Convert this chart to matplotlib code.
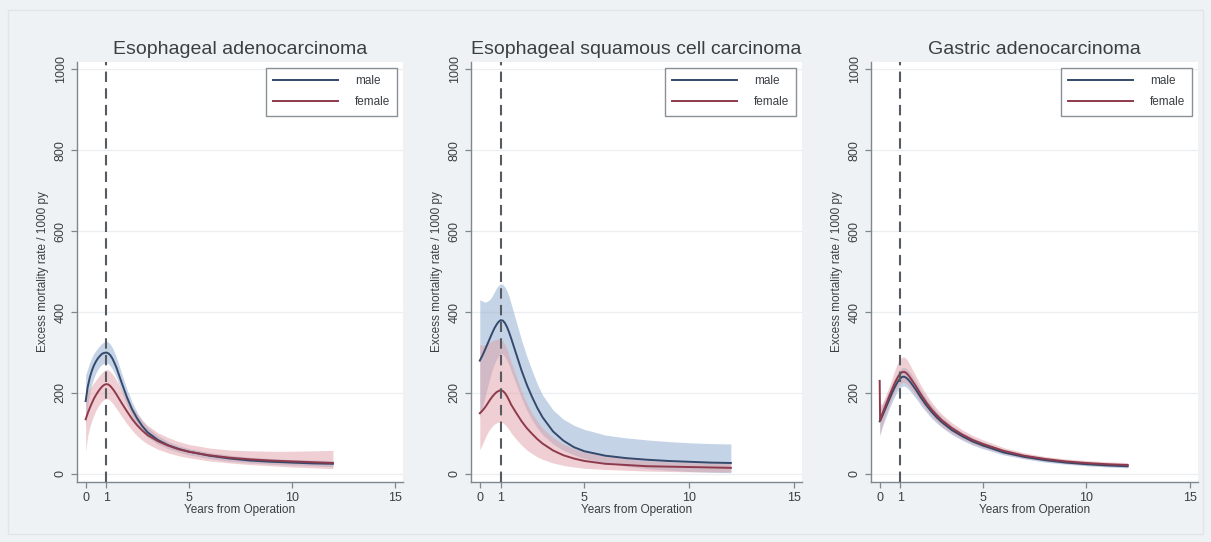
import matplotlib
matplotlib.use("Agg")
import matplotlib.pyplot as plt

plt.rcParams['font.family'] = ['Liberation Sans', 'DejaVu Sans']

titles = ["Esophageal adenocarcinoma", "Esophageal squamous cell carcinoma", "Gastric adenocarcinoma"]
legend_labels = ["male", "female"]
x_ticks = [0, 1, 5, 10, 15]
y_ticks = [0, 200, 400, 600, 800, 1000]
x_label = "Years from Operation"
y_label = "Excess mortality rate / 1000 py"

# time grid for panels 1 and 2
t = [0, 0.1, 0.2, 0.3, 0.4, 0.5, 0.6, 0.7, 0.8, 0.9, 1.0, 1.1, 1.2, 1.3, 1.4, 1.5,
     1.75, 2, 2.25, 2.5, 2.75, 3, 3.5, 4, 4.5, 5, 6, 7, 8, 9, 10, 11, 12]

# Panel 1: Esophageal adenocarcinoma
male1 = [180, 215, 238, 255, 268, 278, 286, 292, 297, 299, 300, 298, 293, 285, 274, 262,
         225, 190, 160, 137, 118, 103, 84, 71, 62, 55, 45, 38, 33, 30, 28, 26, 25]
male1_lo = [115, 165, 200, 222, 238, 250, 259, 266, 271, 273, 274, 272, 267, 259, 249, 238,
            203, 170, 143, 122, 105, 91, 74, 62, 54, 47, 38, 31, 27, 24, 22, 20, 18]
male1_hi = [245, 260, 275, 288, 298, 305, 312, 318, 323, 326, 328, 326, 320, 312, 300, 287,
            248, 210, 178, 152, 131, 115, 95, 80, 70, 63, 53, 46, 41, 38, 35, 34, 33]
female1 = [135, 150, 163, 175, 186, 195, 203, 210, 216, 220, 222, 221, 217, 211, 204, 196,
           175, 155, 136, 120, 107, 96, 81, 70, 61, 55, 46, 40, 36, 33, 31, 29, 27]
female1_lo = [55, 95, 115, 132, 145, 157, 166, 174, 180, 184, 186, 185, 181, 175, 168, 161,
              142, 124, 108, 94, 83, 74, 61, 52, 45, 40, 32, 27, 23, 20, 17, 15, 13]
female1_hi = [215, 205, 210, 218, 225, 232, 239, 245, 251, 255, 258, 257, 253, 247, 240, 231,
              208, 186, 165, 148, 133, 120, 102, 90, 80, 73, 64, 59, 57, 56, 56, 57, 58]

# Panel 2: Esophageal squamous cell carcinoma
male2 = [280, 290, 301, 313, 325, 337, 349, 360, 369, 376, 380, 379, 373, 363, 350, 335,
         295, 255, 220, 190, 163, 140, 105, 82, 66, 56, 45, 39, 35, 32, 30, 28, 27]
male2_lo = [140, 160, 180, 200, 220, 240, 258, 272, 284, 292, 298, 296, 290, 280, 268, 254,
            220, 186, 157, 133, 113, 97, 74, 58, 47, 38, 27, 19, 13, 9, 6, 4, 3]
male2_hi = [430, 428, 425, 425, 428, 432, 440, 450, 460, 466, 470, 468, 462, 452, 438, 420,
            375, 330, 290, 255, 222, 195, 158, 135, 120, 110, 96, 89, 84, 80, 77, 75, 74]
female2 = [150, 155, 161, 168, 176, 184, 191, 197, 202, 205, 207, 205, 200, 192, 182, 171,
           150, 130, 113, 99, 86, 75, 58, 46, 38, 32, 25, 22, 19, 18, 17, 16, 15]
female2_lo = [60, 70, 82, 94, 104, 112, 118, 123, 126, 128, 128, 126, 122, 116, 109, 101,
              85, 71, 59, 50, 42, 36, 27, 21, 17, 14, 11, 9, 7, 6, 5, 5, 5]
female2_hi = [320, 318, 318, 320, 323, 326, 329, 331, 333, 333, 332, 328, 320, 308, 293, 277,
              240, 205, 174, 150, 130, 113, 90, 74, 62, 54, 44, 38, 33, 30, 28, 27, 26]

# Panel 3: Gastric adenocarcinoma
t3 = [0, 0.02, 0.1, 0.2, 0.3, 0.4, 0.5, 0.6, 0.7, 0.8, 0.9, 1.0, 1.1, 1.2, 1.3, 1.4, 1.5,
      1.75, 2, 2.25, 2.5, 2.75, 3, 3.5, 4, 4.5, 5, 6, 7, 8, 9, 10, 11, 12]
male3 = [130, 131, 140, 152, 164, 176, 188, 200, 211, 221, 230, 236, 240, 240, 237, 232, 226,
         208, 188, 170, 154, 140, 128, 108, 93, 80, 70, 53, 42, 34, 28, 24, 21, 19]
male3_lo = [98, 99, 112, 126, 140, 153, 166, 178, 189, 199, 207, 213, 217, 217, 214, 209, 203,
            187, 169, 153, 138, 126, 115, 97, 83, 71, 62, 47, 37, 29, 24, 20, 17, 15]
male3_hi = [162, 163, 168, 178, 188, 199, 210, 222, 233, 243, 253, 259, 263, 263, 260, 255, 249,
            229, 207, 187, 170, 154, 141, 119, 103, 89, 78, 59, 47, 39, 32, 28, 25, 23]
female3 = [230, 132, 145, 158, 171, 184, 197, 209, 221, 232, 241, 248, 252, 252, 249, 243, 236,
           217, 196, 177, 160, 146, 133, 113, 97, 84, 74, 57, 45, 37, 31, 27, 24, 22]
female3_lo = [228, 90, 118, 133, 148, 162, 175, 187, 199, 209, 217, 223, 226, 226, 223, 218, 211,
              194, 175, 158, 143, 130, 118, 100, 86, 74, 65, 50, 39, 32, 26, 22, 19, 17]
female3_hi = [232, 175, 172, 183, 195, 208, 221, 236, 252, 266, 277, 285, 289, 289, 284, 276, 266,
              242, 218, 197, 178, 162, 148, 126, 109, 95, 84, 65, 52, 43, 37, 33, 30, 28]

panels = [
    (t, male1, male1_lo, male1_hi, female1, female1_lo, female1_hi),
    (t, male2, male2_lo, male2_hi, female2, female2_lo, female2_hi),
    (t3, male3, male3_lo, male3_hi, female3, female3_lo, female3_hi),
]

bg = "#eef2f5"
male_col = "#34496b"
female_col = "#8e3a4c"
male_band = "#95afd2"
female_band = "#e0a0a8"
axis_col = "#7d8790"
text_col = "#3a3f44"

fig = plt.figure(figsize=(12.11, 5.42), dpi=100, facecolor=bg)
fig.patches.append(plt.Rectangle((8 / 1211, 8 / 542), 1 - 16 / 1211, 1 - 18 / 542,
                                 transform=fig.transFigure, fill=False,
                                 edgecolor="#dfe5ea", linewidth=1.0))

lefts = [77, 471, 871]
rights = [403, 802, 1198]
top_px, bot_px = 62, 482

for i, (tt, m, mlo, mhi, f, flo, fhi) in enumerate(panels):
    l = lefts[i] / 1211
    w = (rights[i] - lefts[i]) / 1211
    b = 1 - bot_px / 542
    h = (bot_px - top_px) / 542
    ax = fig.add_axes([l, b, w, h])
    ax.set_facecolor("white")
    ax.set_xlim(-0.42, 15.4)
    ax.set_ylim(-20, 1018)
    for yv in y_ticks:
        ax.axhline(yv, color="#eceff1", linewidth=0.9, zorder=0)
    ax.fill_between(tt, mlo, mhi, color=male_band, alpha=0.55, linewidth=0, zorder=1)
    ax.fill_between(tt, flo, fhi, color=female_band, alpha=0.5, linewidth=0, zorder=2)
    ax.plot(tt, m, color=male_col, linewidth=1.4, zorder=3, label=legend_labels[0])
    ax.plot(tt, f, color=female_col, linewidth=1.4, zorder=3, label=legend_labels[1])
    ax.axvline(1, color="#555b61", linestyle=(0, (5, 3)), linewidth=1.5, zorder=4)

    for s in ["top", "right"]:
        ax.spines[s].set_visible(False)
    for s in ["left", "bottom"]:
        ax.spines[s].set_color(axis_col)
        ax.spines[s].set_linewidth(1.0)
    ax.set_xticks(x_ticks)
    ax.set_yticks(y_ticks)
    ax.tick_params(axis="both", colors=axis_col, length=4, width=0.9,
                   labelcolor=text_col, labelsize=9)
    plt.setp(ax.get_yticklabels(), rotation=90, va="center")
    ax.set_xlabel(x_label, fontsize=8.5, color=text_col, labelpad=0)
    ax.set_ylabel(y_label, fontsize=8.5, color=text_col, labelpad=4)
    ax.set_title(titles[i], fontsize=14, color=text_col, pad=6)
    leg = ax.legend(loc="upper right", bbox_to_anchor=(1.0, 1.0), fontsize=8.5, frameon=True,
                    fancybox=False, edgecolor="#6d747a", handlelength=5.5, handletextpad=1.4,
                    borderpad=0.6, labelspacing=0.8)
    leg.get_frame().set_linewidth(1.0)
    for txt in leg.get_texts():
        txt.set_color(text_col)

fig.savefig("out.png", dpi=100, facecolor=bg)
